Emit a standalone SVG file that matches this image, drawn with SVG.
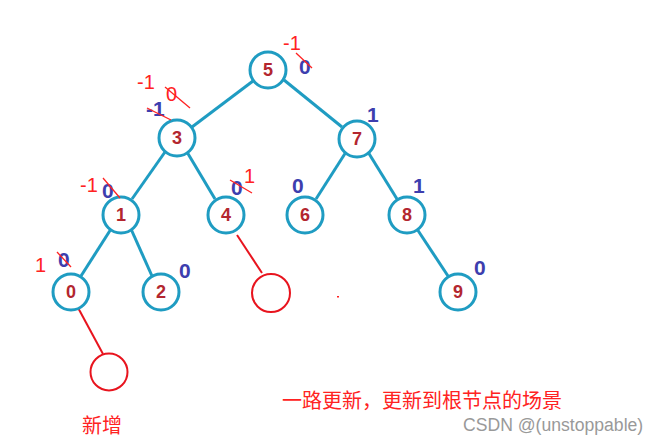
<svg xmlns="http://www.w3.org/2000/svg" width="660" height="444" viewBox="0 0 660 444">
<style>
.n{fill:#fff;stroke:#1f9cc2;stroke-width:3}
.e{stroke:#1f9cc2;stroke-width:3;fill:none}
.t{font-family:"Liberation Sans",Arial,sans-serif;font-weight:bold;font-size:18px;fill:#b3262f;text-anchor:middle}
.b{font-family:"Liberation Sans",Arial,sans-serif;font-weight:bold;font-size:21px;fill:#3d3eae}
.r{font-family:"Liberation Sans",Arial,sans-serif;font-size:20px;fill:#f22}
.s{stroke:#f22;stroke-width:1.3;fill:none}
.rc{fill:none;stroke:#e8141e;stroke-width:2}
.rl{stroke:#e8141e;stroke-width:2}
.cj{font-family:"Noto Sans CJK SC",sans-serif;font-size:20px;fill:#f22}
</style>
<rect width="660" height="444" fill="#fff"/>
<g id="connectors">
<line class="e" x1="253" y1="81" x2="192" y2="127"/>
<line class="e" x1="284" y1="80" x2="342" y2="127"/>
<line class="e" x1="165" y1="152" x2="132" y2="199"/>
<line class="e" x1="187" y1="152" x2="215" y2="199"/>
<line class="e" x1="346" y1="152" x2="316" y2="199"/>
<line class="e" x1="368" y1="152" x2="397" y2="199"/>
<line class="e" x1="111" y1="229" x2="81" y2="276"/>
<line class="e" x1="131" y1="229" x2="152" y2="276"/>
<line class="e" x1="417" y1="229" x2="448" y2="276"/>
<line class="rl" x1="237" y1="235" x2="262" y2="273"/>
<line class="rl" x1="76" y1="304" x2="103" y2="354"/>
</g>
<g id="n5"><circle class="n" cx="268" cy="70" r="18"/><text class="t" x="268" y="76">5</text></g>
<g id="n3"><circle class="n" cx="177" cy="138" r="18"/><text class="t" x="177" y="144">3</text></g>
<g id="n7"><circle class="n" cx="357" cy="139" r="18"/><text class="t" x="357" y="145">7</text></g>
<g id="n1"><circle class="n" cx="121" cy="215" r="18"/><text class="t" x="121" y="221">1</text></g>
<g id="n4"><circle class="n" cx="226" cy="215" r="18"/><text class="t" x="226" y="221">4</text></g>
<g id="n6"><circle class="n" cx="305" cy="215" r="18"/><text class="t" x="305" y="221">6</text></g>
<g id="n8"><circle class="n" cx="407" cy="215" r="18"/><text class="t" x="407" y="221">8</text></g>
<g id="n0"><circle class="n" cx="71" cy="292" r="18"/><text class="t" x="71" y="298">0</text></g>
<g id="n2"><circle class="n" cx="161" cy="292" r="18"/><text class="t" x="161" y="298">2</text></g>
<g id="n9"><circle class="n" cx="458" cy="292" r="18"/><text class="t" x="458" y="298">9</text></g>
<g id="new4"><circle class="rc" cx="271" cy="293" r="19"/></g>
<g id="new0"><circle class="rc" cx="109" cy="372" r="18.5"/></g>
<g id="labels">
<text class="r" x="283" y="50">-1</text>
<text class="b" x="299" y="74">0</text>
<line class="s" x1="296" y1="53" x2="312" y2="68"/>
<text class="r" x="137" y="89">-1</text>
<text class="r" x="166" y="101">0</text>
<line class="s" x1="165" y1="87" x2="190" y2="108"/>
<text class="b" x="146" y="116">-1</text>
<line class="s" x1="147" y1="108" x2="171" y2="120"/>
<text class="r" x="80" y="192">-1</text>
<text class="b" x="102" y="198">0</text>
<line class="s" x1="103" y1="178" x2="120" y2="198"/>
<text class="b" x="231" y="195">0</text>
<text class="r" x="244" y="183">1</text>
<line class="s" x1="230" y1="180" x2="252" y2="193"/>
<text class="r" x="35" y="272">1</text>
<text class="b" x="58" y="267">0</text>
<line class="s" x1="57" y1="252" x2="71" y2="267"/>
<text class="b" x="179" y="278">0</text>
<text class="b" x="367" y="122">1</text>
<text class="b" x="292" y="193">0</text>
<text class="b" x="413" y="193">1</text>
<text class="b" x="474" y="275">0</text>
<rect x="337" y="296" width="2" height="1.5" fill="#f22"/>
</g>
<text class="cj" x="82" y="433">新增</text>
<text class="cj" x="282" y="408">一路更新，更新到根节点的场景</text>
<text x="463" y="431" font-family="'Liberation Sans',Arial,sans-serif" font-size="17.6" fill="#999">CSDN @(unstoppable)</text>
</svg>
